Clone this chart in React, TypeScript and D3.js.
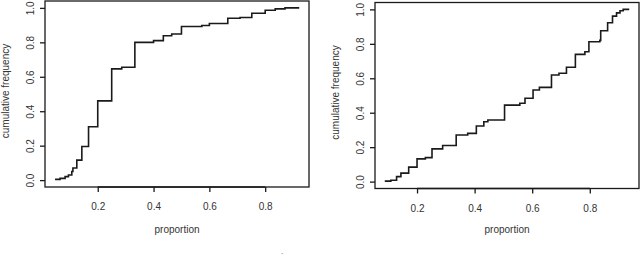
import React, { useEffect, useRef } from 'react';
import * as d3 from 'd3';

// ECDF steps: knot positions and the level after each knot
const leftX = [0.047, 0.065, 0.083, 0.095, 0.107, 0.111, 0.125, 0.143, 0.167, 0.2, 0.25, 0.286, 0.333, 0.4, 0.435, 0.465, 0.5, 0.573, 0.6, 0.666, 0.71, 0.752, 0.8, 0.836, 0.871, 0.922];
const leftY = [0.004, 0.01, 0.02, 0.03, 0.05, 0.07, 0.116, 0.195, 0.31, 0.46, 0.646, 0.655, 0.8, 0.81, 0.838, 0.848, 0.892, 0.898, 0.909, 0.94, 0.944, 0.969, 0.986, 0.994, 1.0, 1.0];

const rightX = [0.088, 0.109, 0.129, 0.144, 0.171, 0.2, 0.229, 0.252, 0.289, 0.336, 0.376, 0.406, 0.432, 0.446, 0.504, 0.557, 0.575, 0.603, 0.625, 0.667, 0.693, 0.719, 0.75, 0.783, 0.797, 0.835, 0.838, 0.862, 0.879, 0.893, 0.905, 0.916, 0.937];
const rightY = [0.003, 0.008, 0.029, 0.049, 0.084, 0.132, 0.139, 0.19, 0.21, 0.271, 0.28, 0.323, 0.348, 0.358, 0.444, 0.455, 0.484, 0.532, 0.547, 0.619, 0.629, 0.664, 0.739, 0.754, 0.812, 0.82, 0.876, 0.922, 0.961, 0.98, 0.992, 1.0, 1.0];

const xTicks = [0.2, 0.4, 0.6, 0.8];
const yTicks = [0.0, 0.2, 0.4, 0.6, 0.8, 1.0];

const W = 640;
const H = 258;
const FONT = '"Liberation Sans", Arial, sans-serif';
const INK = '#1a1a1a';

interface Panel {
  xs: number[];
  ys: number[];
  xDomain: [number, number];
  box: { left: number; right: number; top: number; bottom: number };
  yLabelX: number;
}

const panels: Panel[] = [
  { xs: leftX, ys: leftY, xDomain: [0.011, 0.957], box: { left: 45, right: 309, top: 1, bottom: 187 }, yLabelX: 6 },
  { xs: rightX, ys: rightY, xDomain: [0.054, 0.971], box: { left: 375, right: 639, top: 2.5, bottom: 188.5 }, yLabelX: 336 },
];

const App: React.FC = () => {
  const svgRef = useRef<SVGSVGElement>(null);

  useEffect(() => {
    if (!svgRef.current) return;
    const svg = d3.select(svgRef.current);
    svg.selectAll('*').remove();

    panels.forEach(p => {
      const { box } = p;
      const x = d3.scaleLinear().domain(p.xDomain).range([box.left, box.right]);
      const y = d3.scaleLinear().domain([-0.04, 1.04]).range([box.bottom, box.top]);
      const g = svg.append('g');

      // plot frame
      g.append('rect')
        .attr('x', box.left).attr('y', box.top)
        .attr('width', box.right - box.left).attr('height', box.bottom - box.top)
        .attr('fill', 'none').attr('stroke', INK).attr('stroke-width', 1.3);

      // x axis
      const xa = g.append('g').attr('transform', `translate(0,${box.bottom})`)
        .call(d3.axisBottom(x).tickValues(xTicks).tickSize(5).tickFormat(d3.format('.1f')));
      xa.select('.domain').attr('stroke', INK).attr('stroke-width', 1.3)
        .attr('d', `M${x(0.2)},0H${x(0.8)}`);
      xa.selectAll('line').attr('stroke', INK).attr('stroke-width', 1.3);
      xa.selectAll('text').attr('fill', '#333').attr('dy', '0').attr('y', 23)
        .style('font-family', FONT).style('font-size', '10px');

      // y axis with rotated labels
      const ya = g.append('g').attr('transform', `translate(${box.left},0)`)
        .call(d3.axisLeft(y).tickValues(yTicks).tickSize(5).tickFormat(d3.format('.1f')));
      ya.select('.domain').attr('stroke', 'none');
      ya.selectAll('line').attr('stroke', INK).attr('stroke-width', 1.3);
      ya.selectAll('text').attr('fill', '#333')
        .attr('x', 0).attr('dy', '0')
        .attr('transform', 'translate(-11,0) rotate(-90)')
        .attr('text-anchor', 'middle')
        .style('font-family', FONT).style('font-size', '10px');

      // ECDF step line
      const pts = p.xs.map((v, i) => [v, p.ys[i]] as [number, number]);
      const line = d3.line<[number, number]>()
        .x(d => x(d[0])).y(d => y(d[1]))
        .curve(d3.curveStepAfter);
      g.append('path').datum(pts)
        .attr('d', line)
        .attr('fill', 'none').attr('stroke', INK).attr('stroke-width', 1.6);

      // axis titles
      g.append('text')
        .attr('x', (box.left + box.right) / 2).attr('y', 233)
        .attr('text-anchor', 'middle')
        .style('font-family', FONT).style('font-size', '10px').attr('fill', '#333')
        .text('proportion');
      g.append('text')
        .attr('transform', `translate(${p.yLabelX + 3},${(box.top + box.bottom) / 2 - 3}) rotate(-90)`)
        .attr('text-anchor', 'middle')
        .style('font-family', FONT).style('font-size', '10px').attr('fill', '#333')
        .text('cumulative frequency');
    });

    // stray mark at the bottom edge of the source image
    svg.append('text').attr('x', 282).attr('y', 257).attr('text-anchor', 'middle')
      .style('font-family', FONT).style('font-size', '6px').attr('fill', '#333').text("'");
  }, []);

  return (
    <div style={{ position: 'absolute', left: 0, top: 0, width: W, height: H, background: '#fff' }}>
      <svg ref={svgRef} width={W} height={H} style={{ display: 'block' }}></svg>
    </div>
  );
};

export default App;
